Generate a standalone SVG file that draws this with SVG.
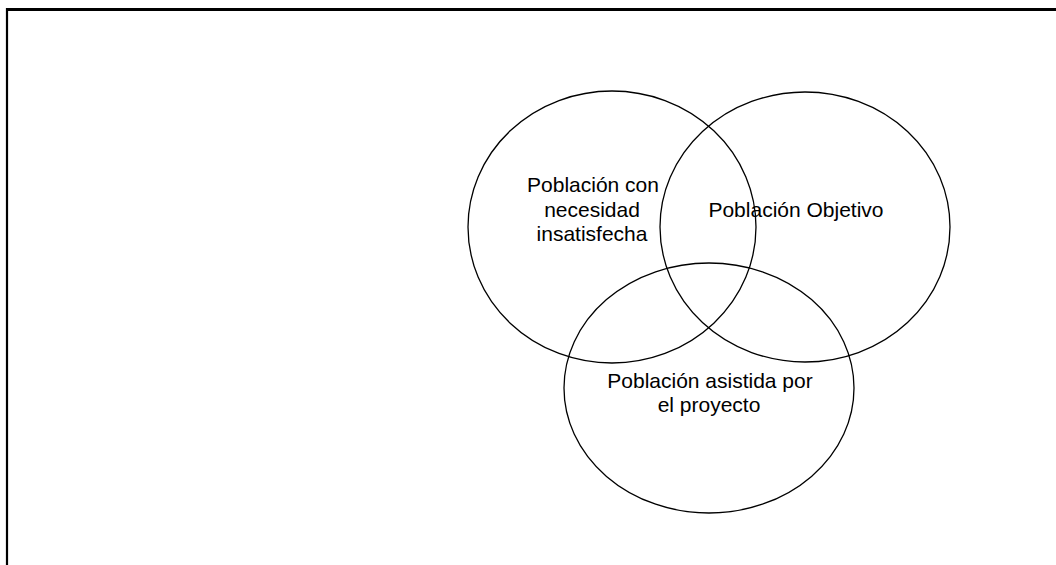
<svg xmlns="http://www.w3.org/2000/svg" width="1056" height="565" viewBox="0 0 1056 565">
<style>
.frame{stroke:#000;fill:none}
.set{fill:none;stroke:#000;stroke-width:1.3}
.lbl{font-family:"Liberation Sans",Arial,sans-serif;font-size:21px;fill:#000;text-anchor:middle}
</style>
<rect width="1056" height="565" fill="#fff"/>
<g id="frame">
<line class="frame" x1="6" y1="9.5" x2="1056" y2="9.5" stroke-width="3"/>
<line class="frame" x1="7" y1="8" x2="7" y2="565" stroke-width="2.2"/>
</g>
<g id="connectors"></g>
<g id="set-necesidad">
<ellipse class="set" cx="612" cy="227" rx="144" ry="136"/>
<text class="lbl" x="593" y="192">Población con</text>
<text class="lbl" x="592" y="217">necesidad</text>
<text class="lbl" x="592" y="241">insatisfecha</text>
</g>
<g id="set-objetivo">
<ellipse class="set" cx="805" cy="227" rx="145" ry="135"/>
<text class="lbl" x="796" y="217">Población Objetivo</text>
</g>
<g id="set-asistida">
<ellipse class="set" cx="709" cy="388" rx="145" ry="125"/>
<text class="lbl" x="710" y="388">Población asistida por</text>
<text class="lbl" x="709" y="412">el proyecto</text>
</g>
</svg>
